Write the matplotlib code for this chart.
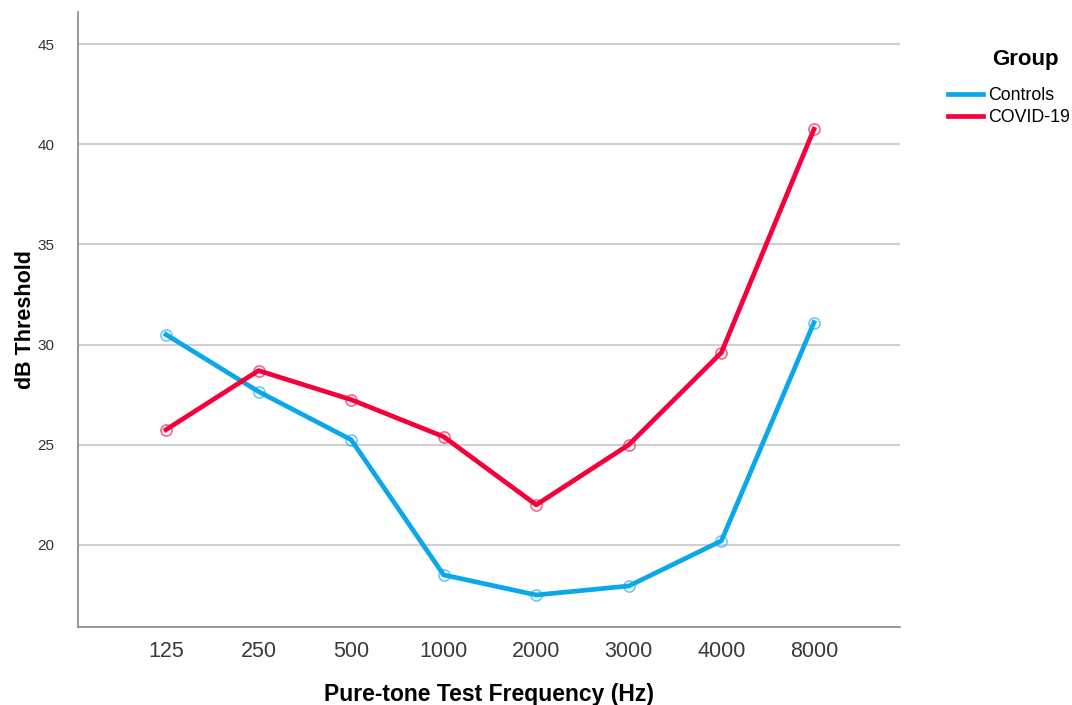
import matplotlib.pyplot as plt

plt.rcParams['font.family'] = ['Liberation Sans', 'DejaVu Sans']

# data
freqs = ['125', '250', '500', '1000', '2000', '3000', '4000', '8000']
controls = [30.5, 27.65, 25.25, 18.5, 17.5, 17.95, 20.2, 31.1]
covid = [25.75, 28.7, 27.25, 25.4, 22.0, 25.0, 29.6, 40.75]
y_ticks = [20, 25, 30, 35, 40, 45]

BLUE = '#0aa8ea'
RED = '#f5003a'

fig = plt.figure(figsize=(10.72, 7.05), dpi=100)
ax = fig.add_axes([0.0728, 0.1106, 0.7668, 0.8724])

x = list(range(len(freqs)))
for vals, col, name in [(controls, BLUE, 'Controls'), (covid, RED, 'COVID-19')]:
    ax.plot(x, vals, color=col, lw=3.4, label=name, zorder=3)
    ax.plot(x, vals, 'o', ms=8, mfc='none', mec=col, mew=1.2, alpha=0.6, zorder=4)

ax.set_xlim(-0.95, 7.93)
ax.set_ylim(15.9, 46.6)
ax.set_xticks(x)
ax.set_xticklabels(freqs, fontsize=15.5, color='#3a3a3a')
ax.set_yticks(y_ticks)
ax.set_yticklabels([str(t) for t in y_ticks], fontsize=11, color='#333333')
ax.tick_params(axis='x', length=0, pad=10)
ax.tick_params(axis='y', length=0, pad=17)
ax.grid(axis='y', color='#d0d0d0', lw=1.5)
ax.set_axisbelow(True)
for s in ['top', 'right']:
    ax.spines[s].set_visible(False)
for s in ['left', 'bottom']:
    ax.spines[s].set_color('#888888')
    ax.spines[s].set_linewidth(1.2)

ax.set_xlabel('Pure-tone Test Frequency (Hz)', fontsize=16.5, fontweight='bold', labelpad=15)
ax.set_ylabel('dB Threshold', fontsize=15.5, fontweight='bold')
ax.yaxis.set_label_coords(-0.051, 0.5)

fig.text(1025 / 1072, 1 - 60 / 705, 'Group', fontsize=16, fontweight='bold',
         ha='center', va='center')
handles = ax.get_lines()[0::2]
fig.legend(handles, ['Controls', 'COVID-19'], loc='upper left',
           bbox_to_anchor=(0.884, 0.876), frameon=False, fontsize=12.8,
           handlelength=2.0, handletextpad=0.3, labelspacing=0.25,
           borderaxespad=0, borderpad=0)

fig.savefig('out.png', dpi=100)
